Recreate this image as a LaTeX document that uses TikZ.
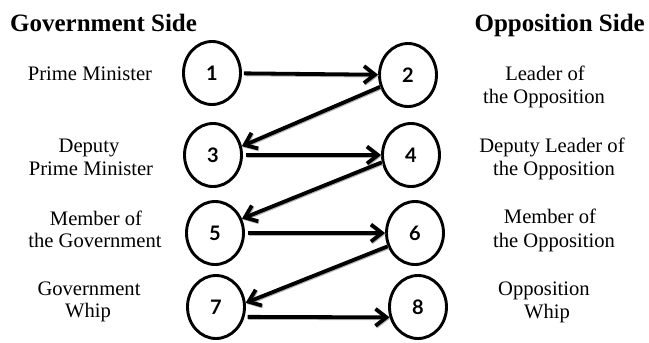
\documentclass[tikz,border=0pt]{standalone}
\usepackage{fontspec}
\setmainfont{Liberation Serif}
\newfontfamily\numfont{Lato}
\usetikzlibrary{shapes.geometric,arrows.meta}
\begin{document}
\begin{tikzpicture}[x=1pt,y=-1pt,
  seat/.style={ellipse,draw=black,line width=2.9pt,inner sep=0pt,
    minimum width=57pt,minimum height=63pt,font=\numfont\bfseries\fontsize{20}{20}\selectfont},
  lbl/.style={anchor=base,inner sep=0pt,font=\fontsize{20.6}{23}\selectfont},
  hdr/.style={inner sep=0pt,font=\bfseries\fontsize{25}{28}\selectfont},
  conn/.style={line width=3.8pt,-{Straight Barb[length=11pt,width=17pt]},
    preaction={draw=black!30,line width=3.8pt,transform canvas={shift={(0.8pt,-1pt)}}}}
]
\useasboundingbox (0,0) rectangle (649,343);
% headers
\node[hdr,anchor=base west] (hg) at (10,31) {Government Side};
\node[hdr,anchor=base east] (ho) at (645,31) {Opposition Side};
% seats
\node[seat] (n1) at (212,73) {1};
\node[seat] (n2) at (408,75) {2};
\node[seat] (n3) at (213,155) {3};
\node[seat] (n4) at (411,155) {4};
\node[seat] (n5) at (215,233) {5};
\node[seat] (n6) at (415,233) {6};
\node[seat] (n7) at (216,307) {7};
\node[seat] (n8) at (418,307) {8};
% left labels
\node[lbl] (l1) at (90,80) {Prime Minister};
\node[lbl] (l3a) at (89,152) {Deputy};
\node[lbl] (l3b) at (91,175) {Prime Minister};
\node[lbl] (l5a) at (96,225) {Member of};
\node[lbl] (l5b) at (95,247) {the Government};
\node[lbl] (l7a) at (89,295) {Government};
\node[lbl] (l7b) at (88,317) {Whip};
% right labels
\node[lbl] (r2a) at (545,80) {Leader of};
\node[lbl] (r2b) at (544,103) {the Opposition};
\node[lbl] (r4a) at (552,152) {Deputy Leader of};
\node[lbl] (r4b) at (554,175) {the Opposition};
\node[lbl] (r6a) at (550,223) {Member of};
\node[lbl] (r6b) at (554,247) {the Opposition};
\node[lbl] (r8a) at (544,295) {Opposition};
\node[lbl] (r8b) at (547,318) {Whip};
% connectors
\draw[conn,shorten <=2pt] (n1) -- (n2);
\draw[conn] (n2.203) -- (n3.17);
\draw[conn,shorten <=3pt] (n3.east) -- (n4.west);
\draw[conn] (n4.194) -- (n5.28);
\draw[conn,shorten <=3pt] (n5.east) -- (n6.west);
\draw[conn] (n6.206) -- (n7.8);
\draw[conn,shorten <=3pt] (n7.-19) -- (n8.200);
\end{tikzpicture}
\end{document}
